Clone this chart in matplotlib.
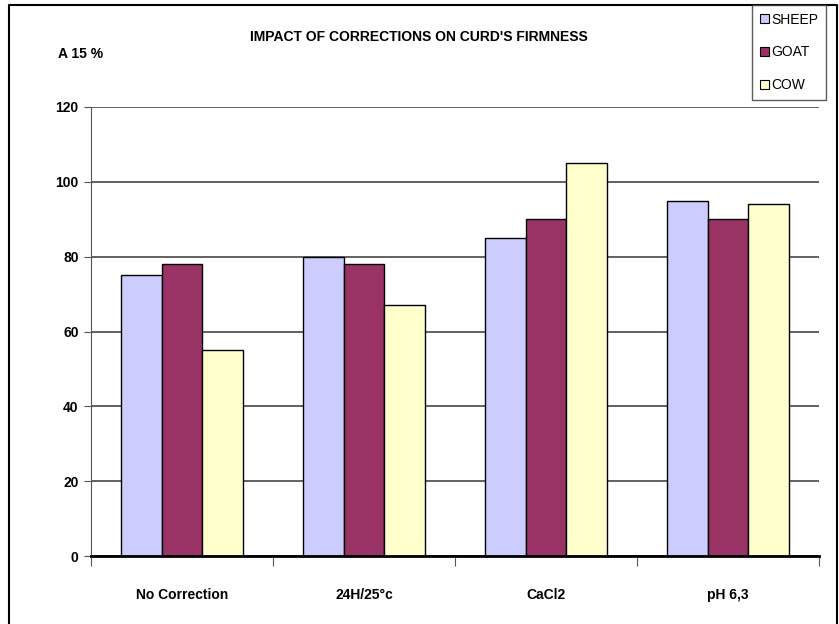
import numpy as np
import matplotlib
matplotlib.use('Agg')
import matplotlib.pyplot as plt
from matplotlib.lines import Line2D
from matplotlib.patches import Patch

# ── Data ───────────────────────────────────────────────────
treatments = ['No Correction', '24H/25°c', 'CaCl2', 'pH 6,3']
sheep      = [75, 80, 85, 95]
goat       = [78, 78, 90, 90]
cow        = [55, 67, 105, 94]
series     = ['SHEEP', 'GOAT', 'COW']
colors     = ['#CCCCFF', '#993366', '#FFFFCC']

plt.rcParams['font.family'] = ['Liberation Sans Narrow', 'Liberation Sans', 'DejaVu Sans']
plt.rcParams['font.size'] = 10

fig = plt.figure(figsize=(8.39, 6.24), dpi=100)
W, H = 839, 624
ax = fig.add_axes([91 / W, 1 - 556 / H, 728 / W, 449 / H])

# ── Bars ───────────────────────────────────────────────────
x     = np.arange(len(treatments))
width = 0.223
for k, (vals, col) in enumerate(zip([sheep, goat, cow], colors)):
    ax.bar(x + (k - 1) * width, vals, width, color=col,
           edgecolor='black', linewidth=1.0, zorder=3)

# ── Axes styling ───────────────────────────────────────────
ax.set_xlim(-0.5, len(treatments) - 0.5)
ax.set_ylim(0, 120)
ax.set_yticks(np.arange(0, 121, 20))
ax.yaxis.grid(True, color='#555555', linewidth=1.3, zorder=0)
ax.set_axisbelow(True)
for s in ['top', 'right']:
    ax.spines[s].set_visible(False)
ax.spines['left'].set_color('#555555')
ax.spines['bottom'].set_linewidth(2)
ax.spines['bottom'].set_zorder(4)
ax.tick_params(axis='y', direction='out', length=5, color='#555555', pad=4)
for lab in ax.get_yticklabels():
    lab.set_fontweight('bold')

# category boundaries carry tick marks, names sit at the centres
ax.set_xticks(np.arange(len(treatments) + 1) - 0.5)
ax.set_xticklabels([''] * (len(treatments) + 1))
ax.tick_params(axis='x', which='major', direction='out', length=7, color='#555555')
ax.set_xticks(x, minor=True)
ax.set_xticklabels(treatments, minor=True, fontweight='bold')
ax.tick_params(axis='x', which='minor', length=0, pad=23)

# ── Texts ──────────────────────────────────────────────────
fig.text(419 / W, 1 - 37 / H, "IMPACT OF CORRECTIONS ON CURD'S FIRMNESS",
         ha='center', va='center', fontweight='bold')
fig.text(58 / W, 1 - 54 / H, 'A 15 %', ha='left', va='center', fontweight='bold')

# ── Legend ─────────────────────────────────────────────────
handles = [Patch(facecolor=c, edgecolor='black', linewidth=0.8) for c in colors]
leg = fig.legend(handles, series, loc='upper left',
                 bbox_to_anchor=(752 / W, 1 - 5 / H), bbox_transform=fig.transFigure,
                 frameon=True, fancybox=False, shadow=False, borderaxespad=0,
                 handlelength=0.65, handleheight=0.65, handletextpad=0.2,
                 labelspacing=1.35, borderpad=0.55)
leg.get_frame().set_edgecolor('#333333')
leg.get_frame().set_linewidth(1.0)

# ── Outer frame ────────────────────────────────────────────
frame_x = [9 / W, 9 / W, 837 / W, 837 / W]
frame_y = [-0.1, 1 - 5 / H, 1 - 5 / H, -0.1]
fig.add_artist(Line2D(frame_x, frame_y, transform=fig.transFigure,
                      color='black', linewidth=1.5))

fig.savefig('out.png', dpi=100)
